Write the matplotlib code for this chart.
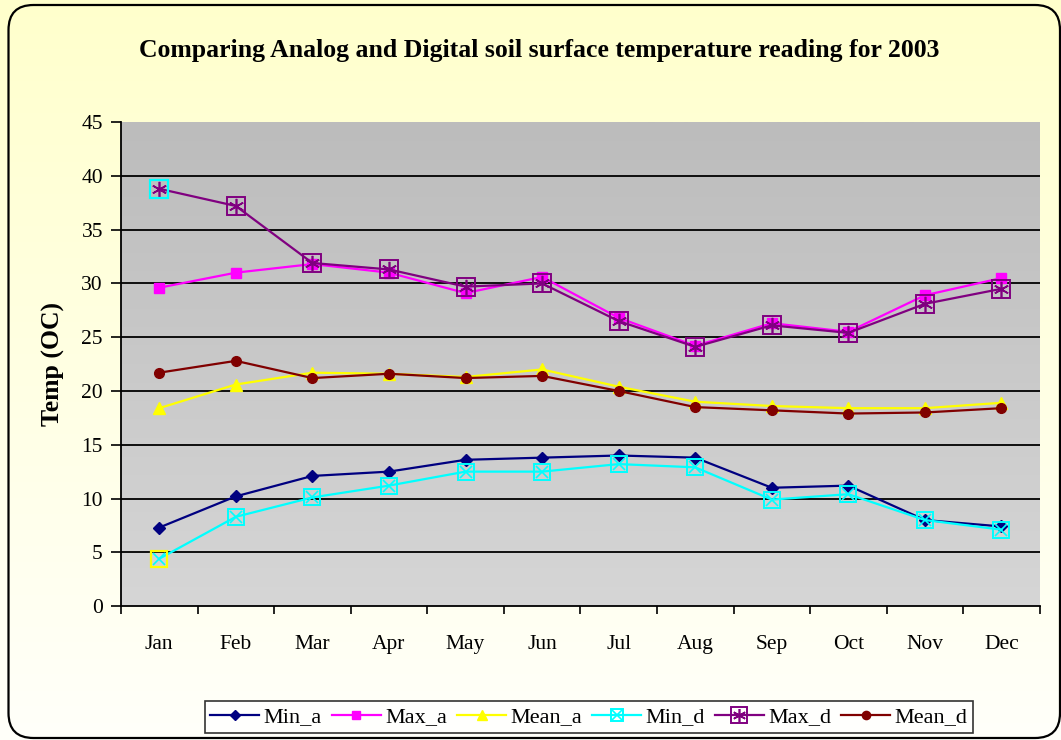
import numpy as np
import matplotlib
matplotlib.use('Agg')
import matplotlib.pyplot as plt
from matplotlib.colors import LinearSegmentedColormap
from matplotlib.patches import FancyBboxPatch

months = ['Jan', 'Feb', 'Mar', 'Apr', 'May', 'Jun', 'Jul', 'Aug', 'Sep', 'Oct', 'Nov', 'Dec']
min_a = [7.3, 10.2, 12.1, 12.5, 13.6, 13.8, 14.0, 13.8, 11.0, 11.2, 8.0, 7.4]
max_a = [29.6, 31.0, 31.8, 31.0, 29.1, 30.6, 26.8, 24.2, 26.3, 25.5, 28.9, 30.5]
mean_a = [18.4, 20.6, 21.7, 21.6, 21.3, 22.0, 20.4, 19.0, 18.6, 18.4, 18.4, 18.9]
min_d = [4.4, 8.3, 10.1, 11.2, 12.5, 12.5, 13.2, 12.9, 9.9, 10.4, 8.0, 7.1]
max_d = [38.8, 37.2, 31.9, 31.3, 29.7, 30.0, 26.5, 24.1, 26.1, 25.4, 28.1, 29.5]
mean_d = [21.7, 22.8, 21.2, 21.6, 21.2, 21.4, 20.0, 18.5, 18.2, 17.9, 18.0, 18.4]

plt.rcParams['font.family'] = ['Liberation Serif', 'DejaVu Serif']

fig = plt.figure(figsize=(10.61, 7.40), dpi=100)

# yellow (top) -> white (bottom) background gradient
bgax = fig.add_axes([0, 0, 1, 1], zorder=-10)
grad = np.linspace(0, 1, 256).reshape(-1, 1)
bgax.imshow(grad, cmap=LinearSegmentedColormap.from_list('bg', ['#FFFFCC', '#FFFFFA']),
            extent=[0, 1, 0, 1], origin='upper', aspect='auto')
bgax.set_xlim(0, 1)
bgax.set_ylim(0, 1)
bgax.axis('off')

# rounded outer frame, in inches so the corners stay circular
border = FancyBboxPatch((0.085, 0.02), 10.515, 7.33, boxstyle='round,pad=0,rounding_size=0.25',
                        transform=fig.dpi_scale_trans, facecolor='none', edgecolor='black', lw=1.6)
fig.add_artist(border)

ax = fig.add_axes([0.114, 0.181, 0.866, 0.654])
x = np.arange(len(months))
ax.set_xlim(-0.5, len(months) - 0.5)

# gray gradient plot area (darker at top)
ax.imshow(grad, cmap=LinearSegmentedColormap.from_list('g', ['#BCBCBC', '#D6D6D6']),
          extent=[-0.5, len(months) - 0.5, 0, 45], origin='upper', aspect='auto', zorder=0)
ax.set_ylim(0, 45)

for yv in range(5, 45, 5):
    ax.axhline(yv, color='black', lw=1.3, zorder=1)

l1, = ax.plot(x, min_a, color='#000080', marker='D', ms=6, lw=1.6, zorder=3)
l2, = ax.plot(x, max_a, color='#FF00FF', marker='s', ms=7, lw=1.6, zorder=3)
l3, = ax.plot(x, mean_a, color='#FFFF00', marker='^', ms=8, lw=1.6, zorder=3)
l4, = ax.plot(x, min_d, color='#00FFFF', marker='s', ms=11, mfc='none', mew=1.4, lw=1.6, zorder=4)
l4x, = ax.plot(x, min_d, color='#00FFFF', marker='x', ms=8, mew=1.2, lw=0, zorder=4)
l5, = ax.plot(x, max_d, color='#800080', marker='s', ms=13, mfc='none', mew=1.4, lw=1.6, zorder=4)
l5x, = ax.plot(x, max_d, color='#800080', marker=(6, 2, 0), ms=11, mew=1.2, lw=0, zorder=4)
l6, = ax.plot(x, mean_d, color='#800000', marker='o', ms=7, lw=1.6, zorder=3)

# Jan markers of the digital series come out with swapped edge colours in the original
ax.plot(x[0], min_d[0], marker='s', ms=11, mfc='none', mec='#FFFF00', mew=1.6, zorder=5)
ax.plot(x[0], max_d[0], marker='s', ms=13, mfc='none', mec='#00FFFF', mew=1.6, zorder=5)

for side in ['top', 'right']:
    ax.spines[side].set_visible(False)
ax.spines['left'].set_linewidth(1.3)
ax.spines['bottom'].set_linewidth(1.3)

ax.set_yticks(range(0, 46, 5))
ax.set_xticks(x)
ax.set_xticklabels(months)
ax.set_xticks(np.arange(-0.5, len(months), 1), minor=True)
ax.tick_params(axis='x', which='major', length=0, pad=21, labelsize=15.5)
ax.tick_params(axis='x', which='minor', length=6, width=1.2, direction='out')
ax.tick_params(axis='y', length=7, width=1.2, labelsize=15.5, pad=6)

ax.set_ylabel('Temp (OC)', fontsize=18.5, fontweight='bold', labelpad=12)
fig.text(0.508, 0.932, 'Comparing Analog and Digital soil surface temperature reading for 2003',
         ha='center', va='center', fontsize=18.5, fontweight='bold')

leg = fig.legend([l1, l2, l3, (l4, l4x), (l5, l5x), l6],
                 ['Min_a', 'Max_a', 'Mean_a', 'Min_d', 'Max_d', 'Mean_d'],
                 loc='center', bbox_to_anchor=(0.555, 0.031), ncol=6, fontsize=16,
                 frameon=True, fancybox=False, edgecolor='black', facecolor='white',
                 handlelength=2.2, handletextpad=0.2, columnspacing=0.45, borderpad=0.25,
                 markerscale=0.85)
leg.get_frame().set_linewidth(1.2)

fig.savefig('out.png', dpi=100)
